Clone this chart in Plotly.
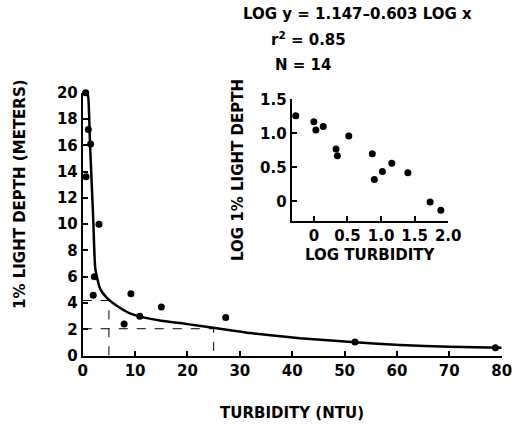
import plotly.graph_objects as go

# Main scatter data (turbidity NTU vs 1% light depth m)
turbidity = [0.57, 1.07, 1.5, 0.63, 3.1, 2.2, 2.0, 9.2, 7.9, 10.9, 15.0, 27.3, 52.0, 78.8]
light_depth = [20.0, 17.2, 16.1, 13.6, 10.0, 6.0, 4.6, 4.7, 2.4, 3.0, 3.7, 2.9, 1.04, 0.61]

# Fitted curve as drawn
curve_x = [0.5, 0.8, 1.07, 1.4, 2.0, 2.4, 3.3, 4.6, 6.5, 9.0, 11.0, 15.0, 20.0, 25.0, 32.0, 41.5, 52.0, 60.6, 70.0, 80.0]
curve_y = [20.1, 20.1, 19.6, 16.0, 10.4, 6.6, 5.1, 4.4, 3.8, 3.22, 2.97, 2.66, 2.4, 2.12, 1.72, 1.32, 1.02, 0.82, 0.68, 0.6]

# Dashed reference lines
ref1_x = [0, 5, 5]
ref1_y = [4.2, 4.2, 0]
ref2_x = [0, 25, 25]
ref2_y = [2.05, 2.05, 0]

# Inset (log-log) data
log_turb = [-0.27, 0.0, 0.03, 0.14, 0.33, 0.35, 0.52, 0.87, 0.90, 1.02, 1.16, 1.40, 1.73, 1.89]
log_depth = [1.26, 1.17, 1.05, 1.10, 0.77, 0.67, 0.96, 0.70, 0.32, 0.44, 0.56, 0.42, -0.01, -0.13]

main_xticks = [0, 10, 20, 30, 40, 50, 60, 70, 80]
main_yticks = [0, 2, 4, 6, 8, 10, 12, 14, 16, 18, 20]
inset_xticks = [0, 0.5, 1.0, 1.5, 2.0]
inset_xlabels = ["0", "0.5", "1.0", "1.5", "2.0"]
inset_yticks = [0, 0.5, 1.0, 1.5]
inset_ylabels = ["0", "0.5", "1.0", "1.5"]

FONT = "DejaVu Sans"
fig = go.Figure()

fig.add_trace(go.Scatter(x=ref1_x, y=ref1_y, mode="lines",
                         line=dict(color="black", width=1, dash="dash"), xaxis="x", yaxis="y", cliponaxis=False))
fig.add_trace(go.Scatter(x=ref2_x, y=ref2_y, mode="lines",
                         line=dict(color="black", width=1, dash="dash"), xaxis="x", yaxis="y", cliponaxis=False))
fig.add_trace(go.Scatter(x=curve_x, y=curve_y, mode="lines",
                         line=dict(color="black", width=2.5, shape="spline", smoothing=0.5),
                         xaxis="x", yaxis="y", cliponaxis=False))
fig.add_trace(go.Scatter(x=turbidity, y=light_depth, mode="markers",
                         marker=dict(color="black", size=7), xaxis="x", yaxis="y", cliponaxis=False))
fig.add_trace(go.Scatter(x=log_turb, y=log_depth, mode="markers",
                         marker=dict(color="black", size=7), xaxis="x2", yaxis="y2", cliponaxis=False))

axis_common = dict(showline=True, linecolor="black", linewidth=2, ticks="inside",
                   tickcolor="black", tickwidth=1.5, ticklen=5, showgrid=False, zeroline=False,
                   automargin=False,
                   tickfont=dict(family=FONT, size=15, color="black", weight="bold"))

fig.update_layout(
    width=514, height=429,
    margin=dict(l=0, r=0, t=0, b=0),
    paper_bgcolor="white", plot_bgcolor="white",
    showlegend=False,
    font=dict(family=FONT, size=15, color="black", weight="bold"),
    xaxis=dict(domain=[0.161, 0.976], range=[0, 80], tickvals=main_xticks,
               anchor="y", **axis_common),
    yaxis=dict(domain=[0.1709, 0.784], range=[0, 20], tickvals=main_yticks,
               anchor="x", **axis_common),
    xaxis2=dict(domain=[0.5675, 0.872], range=[-0.33, 2.0], tickvals=inset_xticks,
                ticktext=inset_xlabels, anchor="y2", **axis_common),
    yaxis2=dict(domain=[0.4855, 0.7685], range=[-0.285, 1.5], tickvals=inset_yticks,
                ticktext=inset_ylabels, anchor="x2", **axis_common),
)

def txt(text, x, y, size=15, angle=0):
    fig.add_annotation(text=text, x=x / 514, y=1 - y / 429, xref="paper", yref="paper",
                       showarrow=False, textangle=angle, xanchor="center", yanchor="middle",
                       font=dict(family=FONT, size=size, color="black", weight="bold"))

txt("TURBIDITY (NTU)", 292, 413)
txt("1% LIGHT DEPTH (METERS)", 20, 194, size=15, angle=-90)
txt("LOG 1% LIGHT DEPTH", 238, 170, size=15, angle=-90)
txt("LOG TURBIDITY", 370, 255)
txt("LOG y = 1.147–0.603 LOG x", 357, 14)
txt("r<sup>2</sup> = 0.85", 308, 39)
txt("N = 14", 303, 65)

fig.write_html("out.html", config={"displayModeBar": False},
               post_script="document.body.style.margin='0';document.body.style.overflow='hidden';")
